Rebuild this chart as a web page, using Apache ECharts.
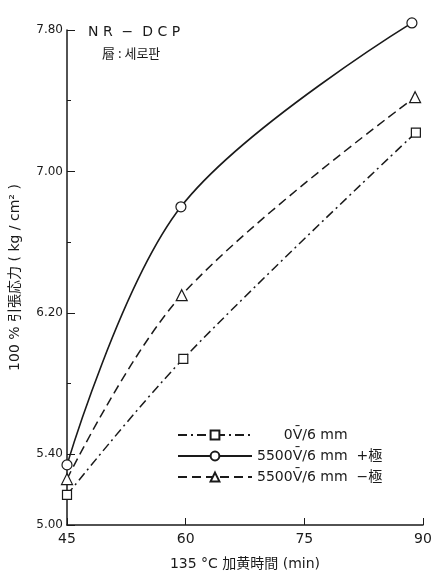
<!DOCTYPE html>
<html>
<head>
<meta charset="utf-8">
<script src="https://cdn.jsdelivr.net/npm/echarts@6/dist/echarts.min.js"></script>
<style>
html,body{margin:0;padding:0;background:#fff;}
#c{width:435px;height:576px;}
</style>
</head>
<body>
<div id="c"></div>
<script>
// ---- data ----
var seriesNames = ['0V\u0304/6 mm', '5500V\u0304/6 mm  +極', '5500V\u0304/6 mm  −極'];
var timesZero  = [45, 59.7, 89.1];
var valuesZero = [5.17, 5.94, 7.22];
var timesPlus  = [45, 59.4, 88.6];
var valuesPlus = [5.34, 6.80, 7.84];
var timesMinus  = [45, 59.5, 89.0];
var valuesMinus = [5.26, 6.30, 7.42];
var xTicks = [45, 60, 75, 90];
var yTickLabels = [5.00, 5.40, 6.20, 7.00, 7.80];
var yMinorTicks = [5.80, 6.60, 7.40];

function pairs(xs, ys){ return xs.map(function(x,i){ return [x, ys[i]]; }); }

var ink = '#1a1a1a';
var font = 'DejaVu Sans, "Noto Sans CJK JP", sans-serif';

var chart = echarts.init(document.getElementById('c'));
chart.setOption({
  backgroundColor: '#fff',
  animation: false,
  textStyle: { fontFamily: font, color: ink },
  grid: { left: 67, right: 12, top: 30, bottom: 46 },
  graphic: [
    { type: 'text', left: 88, top: 25, style: { text: 'N R  −  D C P', font: '14px ' + font, fill: ink } },
    { type: 'text', left: 102, top: 47, style: { text: '層 : 세로판', font: '13px "Noto Sans CJK KR", sans-serif', fill: ink } }
  ],
  legend: {
    orient: 'vertical',
    left: 172, top: 423,
    itemWidth: 74, itemHeight: 11, itemGap: 7,
    textStyle: { fontSize: 14, color: ink, fontFamily: font },
    data: seriesNames,
    formatter: function(n){ return n === seriesNames[0] ? '\u2007\u2007\u2007' + n : n; }
  },
  xAxis: {
    type: 'value', min: 45, max: 90, interval: 15,
    name: '135 °C 加黄時間 (min)', nameLocation: 'middle', nameGap: 32,
    nameTextStyle: { fontSize: 14, color: ink },
    axisLine: { lineStyle: { color: ink, width: 1.5 } },
    axisTick: { inside: true, length: 7, lineStyle: { color: ink }, customValues: xTicks },
    axisLabel: { fontSize: 14, color: ink, margin: 7, customValues: xTicks },
    splitLine: { show: false }
  },
  yAxis: [{
    type: 'value', min: 5.0, max: 7.8, interval: 0.4,
    name: '100 % 引張応力 ( kg / cm² )', nameLocation: 'middle', nameGap: 45, nameRotate: 90,
    nameTextStyle: { fontSize: 14, color: ink },
    axisLine: { show: true, lineStyle: { color: ink, width: 1.5 } },
    axisTick: { inside: true, length: 8, lineStyle: { color: ink }, customValues: yTickLabels },
    axisLabel: { fontSize: 12, color: ink, margin: 4, customValues: yTickLabels,
      formatter: function(v){ return v.toFixed(2); } },
    splitLine: { show: false }
  }, {
    type: 'value', min: 5.0, max: 7.8, interval: 0.4, position: 'left',
    axisLine: { show: false },
    axisTick: { show: true, inside: true, length: 4, lineStyle: { color: ink }, customValues: yMinorTicks },
    axisLabel: { show: false },
    splitLine: { show: false }
  }],
  series: [{
    name: seriesNames[0], type: 'line', smooth: 0.35, clip: false,
    data: pairs(timesZero, valuesZero),
    symbol: 'rect', symbolSize: 9,
    itemStyle: { color: '#fff', borderColor: ink, borderWidth: 1.2 },
    lineStyle: { color: ink, width: 1.5, type: [9, 4, 2, 4] }
  }, {
    name: seriesNames[1], type: 'line', smooth: 0.35, clip: false,
    data: pairs(timesPlus, valuesPlus),
    symbol: 'circle', symbolSize: 10,
    itemStyle: { color: '#fff', borderColor: ink, borderWidth: 1.2 },
    lineStyle: { color: ink, width: 1.6, type: 'solid' }
  }, {
    name: seriesNames[2], type: 'line', smooth: 0.35, clip: false,
    data: pairs(timesMinus, valuesMinus),
    symbol: 'triangle', symbolSize: 11,
    itemStyle: { color: '#fff', borderColor: ink, borderWidth: 1.2 },
    lineStyle: { color: ink, width: 1.5, type: [9, 5] }
  }]
});
</script>
</body>
</html>
